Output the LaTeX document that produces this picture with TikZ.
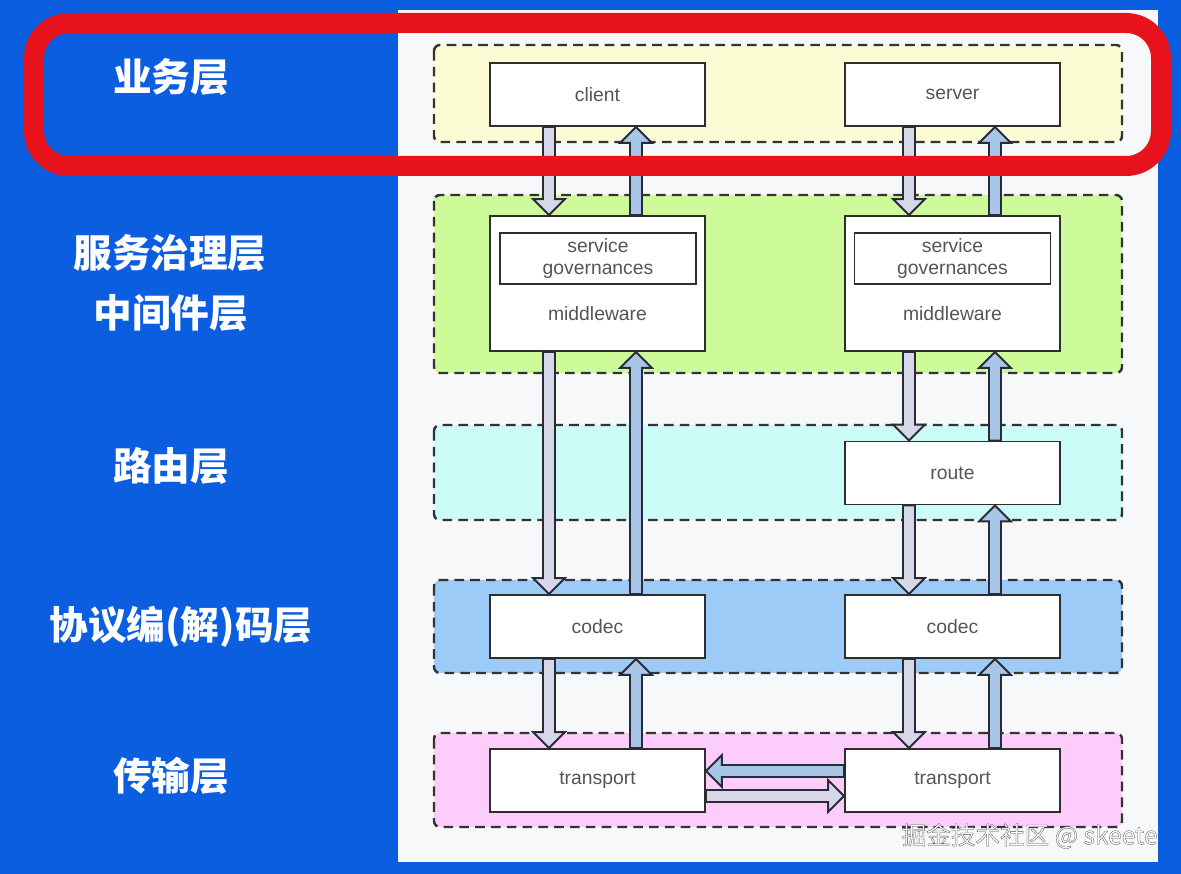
\documentclass[tikz,border=0pt]{standalone}
\usepackage{fontspec}
\setmainfont{Liberation Sans}
\newfontfamily\cjk{Noto Sans CJK SC}
\newfontfamily\wmfont{Noto Sans CJK SC}[FakeBold=1.2]
\usetikzlibrary{calc}
\definecolor{bgblue}{RGB}{12,94,224}
\definecolor{panel}{HTML}{F7F8FA}
\definecolor{lyellow}{HTML}{FCFCD4}
\definecolor{lgreen}{HTML}{CDFB9A}
\definecolor{lcyan}{HTML}{CCFCF8}
\definecolor{lblue}{HTML}{9DCBF8}
\definecolor{lpink}{HTML}{FCCDFB}
\definecolor{dashcol}{HTML}{333333}
\definecolor{boxline}{HTML}{2E2E2E}
\definecolor{boxtext}{HTML}{555555}
\definecolor{downfill}{HTML}{D6D8E8}
\definecolor{upfill}{HTML}{A8C6E8}
\definecolor{arrowline}{HTML}{2A2A38}
\definecolor{hlred}{RGB}{232,18,28}
\newcommand{\blockarrow}[3][]{%
  \path #2 coordinate (baS) #3 coordinate (baE);
  \coordinate (baH) at ($(baE)!0.32cm!(baS)$);
  \draw[#1] ($(baS)!0.12cm!90:(baE)$) -- ($(baH)!0.12cm!90:(baE)$)
    -- ($(baH)!0.32cm!90:(baE)$) -- (baE) -- ($(baH)!0.32cm!-90:(baE)$)
    -- ($(baH)!0.12cm!-90:(baE)$) -- ($(baS)!0.12cm!-90:(baE)$) -- cycle;
}
\tikzset{
  layer/.style={draw=dashcol, line width=1.4pt, dash pattern=on 5.5pt off 3.5pt, rounded corners=0.12cm},
  box/.style={draw=boxline, line width=1.1pt, fill=white, minimum width=4.3cm, minimum height=1.26cm, inner sep=0pt, text=boxtext, font=\fontsize{11}{13}\selectfont},
  bigbox/.style={box, minimum height=2.7cm},
  innerbox/.style={draw=boxline, line width=1.1pt, fill=white, minimum width=3.92cm, minimum height=1.02cm, inner sep=0pt, text=boxtext, align=center, font=\fontsize{11}{12.5}\selectfont},
  plain/.style={text=boxtext, font=\fontsize{11}{13}\selectfont, inner sep=0pt},
  lab/.style={text=white, font=\cjk\bfseries\fontsize{22}{26}\selectfont, inner sep=0pt},
  dnarrow/.style={draw=arrowline, fill=downfill, line width=1.1pt, line join=miter},
  uparrow/.style={draw=arrowline, fill=upfill, line width=1.1pt, line join=miter},
}
\begin{document}
\begin{tikzpicture}[x=0.02cm, y=-0.02cm]
\useasboundingbox (0,0) rectangle (1181,874);
\fill[bgblue] (0,0) rectangle (1181,874);
\fill[panel] (398,10) rectangle (1158,862);
% layers
\draw[layer, fill=lyellow] (434,45) rectangle (1122,142);
\draw[layer, fill=lgreen] (434,195) rectangle (1122,373);
\draw[layer, fill=lcyan] (434,425) rectangle (1122,520);
\draw[layer, fill=lblue] (434,580) rectangle (1122,673);
\draw[layer, fill=lpink] (434,733) rectangle (1122,827);
% boxes
\node[box] (client) at (597.5,94.5) {client};
\node[box] (server) at (952.5,94.5) {server};
\node[bigbox] (mwL) at (597.5,283.5) {};
\node[bigbox] (mwR) at (952.5,283.5) {};
\node[innerbox] (sgL) at (598,258.5) {service\\governances};
\node[innerbox] (sgR) at (952.5,258.5) {service\\governances};
\node[plain] (mwtL) at (597.5,314) {middleware};
\node[plain] (mwtR) at (952.5,314) {middleware};
\node[box] (route) at (952.5,473) {route};
\node[box] (codecL) at (597.5,626.5) {codec};
\node[box] (codecR) at (952.5,626.5) {codec};
\node[box] (trL) at (597.5,780.5) {transport};
\node[box] (trR) at (952.5,780.5) {transport};
% column guides
\coordinate (dL) at (549,0);
\coordinate (uL) at (636,0);
\coordinate (dR) at (909,0);
\coordinate (uR) at (995,0);
\coordinate (hU) at (0,771);
\coordinate (hD) at (0,796);
% left column arrows
\blockarrow[dnarrow]{(client.south -| dL)}{(mwL.north -| dL)}
\blockarrow[uparrow]{(mwL.north -| uL)}{(client.south -| uL)}
\blockarrow[dnarrow]{(mwL.south -| dL)}{(codecL.north -| dL)}
\blockarrow[uparrow]{(codecL.north -| uL)}{(mwL.south -| uL)}
\blockarrow[dnarrow]{(codecL.south -| dL)}{(trL.north -| dL)}
\blockarrow[uparrow]{(trL.north -| uL)}{(codecL.south -| uL)}
% right column arrows
\blockarrow[dnarrow]{(server.south -| dR)}{(mwR.north -| dR)}
\blockarrow[uparrow]{(mwR.north -| uR)}{(server.south -| uR)}
\blockarrow[dnarrow]{(mwR.south -| dR)}{(route.north -| dR)}
\blockarrow[uparrow]{(route.north -| uR)}{(mwR.south -| uR)}
\blockarrow[dnarrow]{(route.south -| dR)}{(codecR.north -| dR)}
\blockarrow[uparrow]{(codecR.north -| uR)}{(route.south -| uR)}
\blockarrow[dnarrow]{(codecR.south -| dR)}{(trR.north -| dR)}
\blockarrow[uparrow]{(trR.north -| uR)}{(codecR.south -| uR)}
% transport to transport
\blockarrow[uparrow]{(trR.west |- hU)}{(trL.east |- hU)}
\blockarrow[dnarrow]{(trL.east |- hD)}{(trR.west |- hD)}
% labels
\node[lab] (lab1) at (171,77) {业务层};
\node[lab] (lab2) at (170,253) {服务治理层};
\node[lab] (lab3) at (171,313) {中间件层};
\node[lab] (lab4) at (171,466) {路由层};
\node[lab] (lab5) at (181,627) {协议编(解)码层};
\node[lab] (lab6) at (171,776) {传输层};
% red highlight
\draw[hlred, line width=0.4cm, rounded corners=0.7cm] (34,23) rectangle (1161,166);
% watermark
\node[anchor=east, text=white, inner sep=0pt, font=\wmfont\fontsize{14}{16}\selectfont] (wm) at (1158,836) {\special{pdf:literal direct 0.3 0.3 0.3 RG}掘金技术社区 @ skeete};
\end{tikzpicture}
\end{document}
